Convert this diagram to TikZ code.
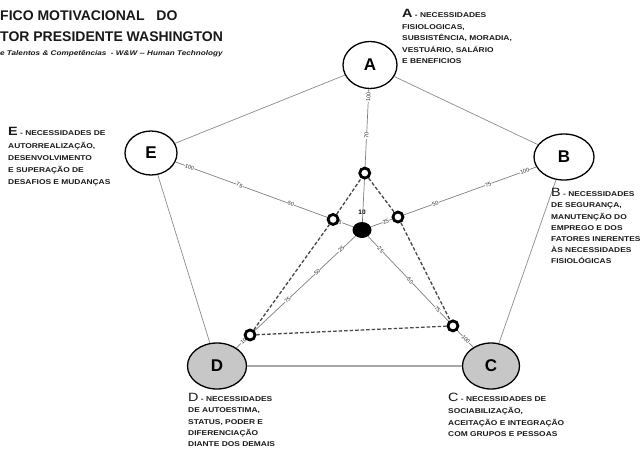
\documentclass[tikz,border=0pt]{standalone}
\usepackage{fontspec}
\setmainfont{Liberation Sans}
\newfontfamily\lblfont{Liberation Sans}[FakeStretch=1.2]
\usetikzlibrary{shapes.geometric,calc}

\begin{document}
\begin{tikzpicture}[x=1pt,y=-1pt,
  vertex/.style={ellipse, draw=black, line width=1.3pt, fill=white, inner sep=0,
    minimum width=54pt, minimum height=47pt, font=\bfseries\fontsize{17}{17}\selectfont},
  lowvertex/.style={vertex, fill=black!22},
  rim/.style={draw=black!45, line width=0.7pt},
  rimthick/.style={draw=black!35, line width=2pt},
  spoke/.style={draw=black!50, line width=0.7pt},
  score/.style={draw=black!72, line width=1.3pt, dash pattern=on 3.5pt off 2pt},
  marker/.style={circle, draw=black, line width=2.8pt, fill=white, minimum size=10pt, inner sep=0},
  hub/.style={ellipse, fill=black, minimum width=19pt, minimum height=16pt, inner sep=0},
  tick/.style={font=\fontsize{5.5}{5.5}\selectfont, fill=white, inner sep=0.3pt, sloped, text=black!85},
  caption/.style={align=left, anchor=north west, inner sep=0, text=black!90},
  titletext/.style={anchor=base west, inner sep=0, text=black!90}
]
\useasboundingbox (0,0) rectangle (643,448);
\fill[white] (0,0) rectangle (643,448);

% title block
\node[titletext, font=\bfseries\fontsize{14}{14}\selectfont] (t1) at (0,20) {FICO MOTIVACIONAL\hspace{8pt} DO};
\node[titletext, font=\bfseries\fontsize{14}{14}\selectfont] (t2) at (0,41) {TOR PRESIDENTE WASHINGTON};
\node[titletext, font=\lblfont\bfseries\itshape\fontsize{6.8}{6.8}\selectfont] (t3) at (0,55)
  {e Talentos \& Competências\ \ - W\&W -- Human Technology};

% the five need groups
\node[vertex] (A) at (370,65) {A};
\node[vertex, minimum width=60pt, minimum height=46pt] (B) at (564,157) {B};
\node[lowvertex, minimum width=57pt, minimum height=46pt] (C) at (491,366) {C};
\node[lowvertex, minimum width=59pt, minimum height=46pt] (D) at (217,366) {D};
\node[vertex, minimum width=52pt, minimum height=44pt] (E) at (151,153) {E};
\node[hub] (O) at (362,230) {};
\node[font=\bfseries\fontsize{6.5}{6.5}\selectfont, inner sep=0] (ten) at (362,212) {10};

% outer pentagon
\draw[rim] (A) -- (B);
\draw[rim] (B) -- (C);
\draw[rimthick] (C) -- (D);
\draw[rim] (D) -- (E);
\draw[rim] (E) -- (A);

% scale axes with their ticks
\draw[spoke] (O) -- node[tick,pos=0.65]{70} node[tick,pos=0.94]{100} (A);
\draw[spoke] (O) -- node[tick,pos=0.09]{25} node[tick,pos=0.39]{50} node[tick,pos=0.71]{75} node[tick,pos=0.93]{100} (B);
\draw[spoke] (O) -- node[tick,pos=0.12]{25} node[tick,pos=0.40]{50} node[tick,pos=0.66]{75} node[tick,pos=0.93]{100} (C);
\draw[spoke] (O) -- node[tick,pos=0.12]{25} node[tick,pos=0.32]{50} node[tick,pos=0.57]{75} node[tick,pos=0.93]{100} (D);
\draw[spoke] (O) -- node[tick,pos=0.08]{25} node[tick,pos=0.35]{50} node[tick,pos=0.64]{75} node[tick,pos=0.92]{100} (E);

% scored values
\node[marker] (mA) at ($(O)!0.345!(A)$) {};
\node[marker] (mB) at ($(O)!0.178!(B)$) {};
\node[marker] (mC) at ($(O)!0.705!(C)$) {};
\node[marker] (mD) at ($(O)!0.772!(D)$) {};
\node[marker] (mE) at ($(O)!0.137!(E)$) {};
\draw[score] (mA) -- (mB);
\draw[score] (mB) -- (mC);
\draw[score] (mC) -- (mD);
\draw[score] (mD) -- (mE);
\draw[score] (mE) -- (mA);

% descriptions
\node[caption, font=\lblfont\bfseries\fontsize{7}{11.5}\selectfont] (dA) at (402,9.4)
  {{\fontsize{12}{11.5}\selectfont A} - NECESSIDADES\\FISIOLOGICAS,\\SUBSISTÊNCIA, MORADIA,\\VESTUÁRIO, SALÁRIO\\E BENEFICIOS};
\node[caption, font=\lblfont\bfseries\fontsize{7}{11.1}\selectfont] (dB) at (551,188.4)
  {{\mdseries\fontsize{12}{11.1}\selectfont B} - NECESSIDADES\\DE SEGURANÇA,\\MANUTENÇÃO DO\\EMPREGO E DOS\\FATORES INERENTES\\ÀS NECESSIDADES\\FISIOLÓGICAS};
\node[caption, font=\lblfont\bfseries\fontsize{7}{11.6}\selectfont] (dC) at (448,393.4)
  {{\mdseries\fontsize{12}{11.6}\selectfont C} - NECESSIDADES DE\\SOCIABILIZAÇÃO,\\ACEITAÇÃO E INTEGRAÇÃO\\COM GRUPOS E PESSOAS};
\node[caption, font=\lblfont\bfseries\fontsize{7}{11.1}\selectfont] (dD) at (188,393.4)
  {{\mdseries\fontsize{12}{11.1}\selectfont D} - NECESSIDADES\\DE AUTOESTIMA,\\STATUS, PODER E\\DIFERENCIAÇÃO\\DIANTE DOS DEMAIS};
\node[caption, font=\lblfont\bfseries\fontsize{7}{12.2}\selectfont] (dE) at (8,127.4)
  {{\fontsize{12}{12.2}\selectfont E} - NECESSIDADES DE\\AUTORREALIZAÇÃO,\\DESENVOLVIMENTO\\E SUPERAÇÃO DE\\DESAFIOS E MUDANÇAS};
\end{tikzpicture}
\end{document}
